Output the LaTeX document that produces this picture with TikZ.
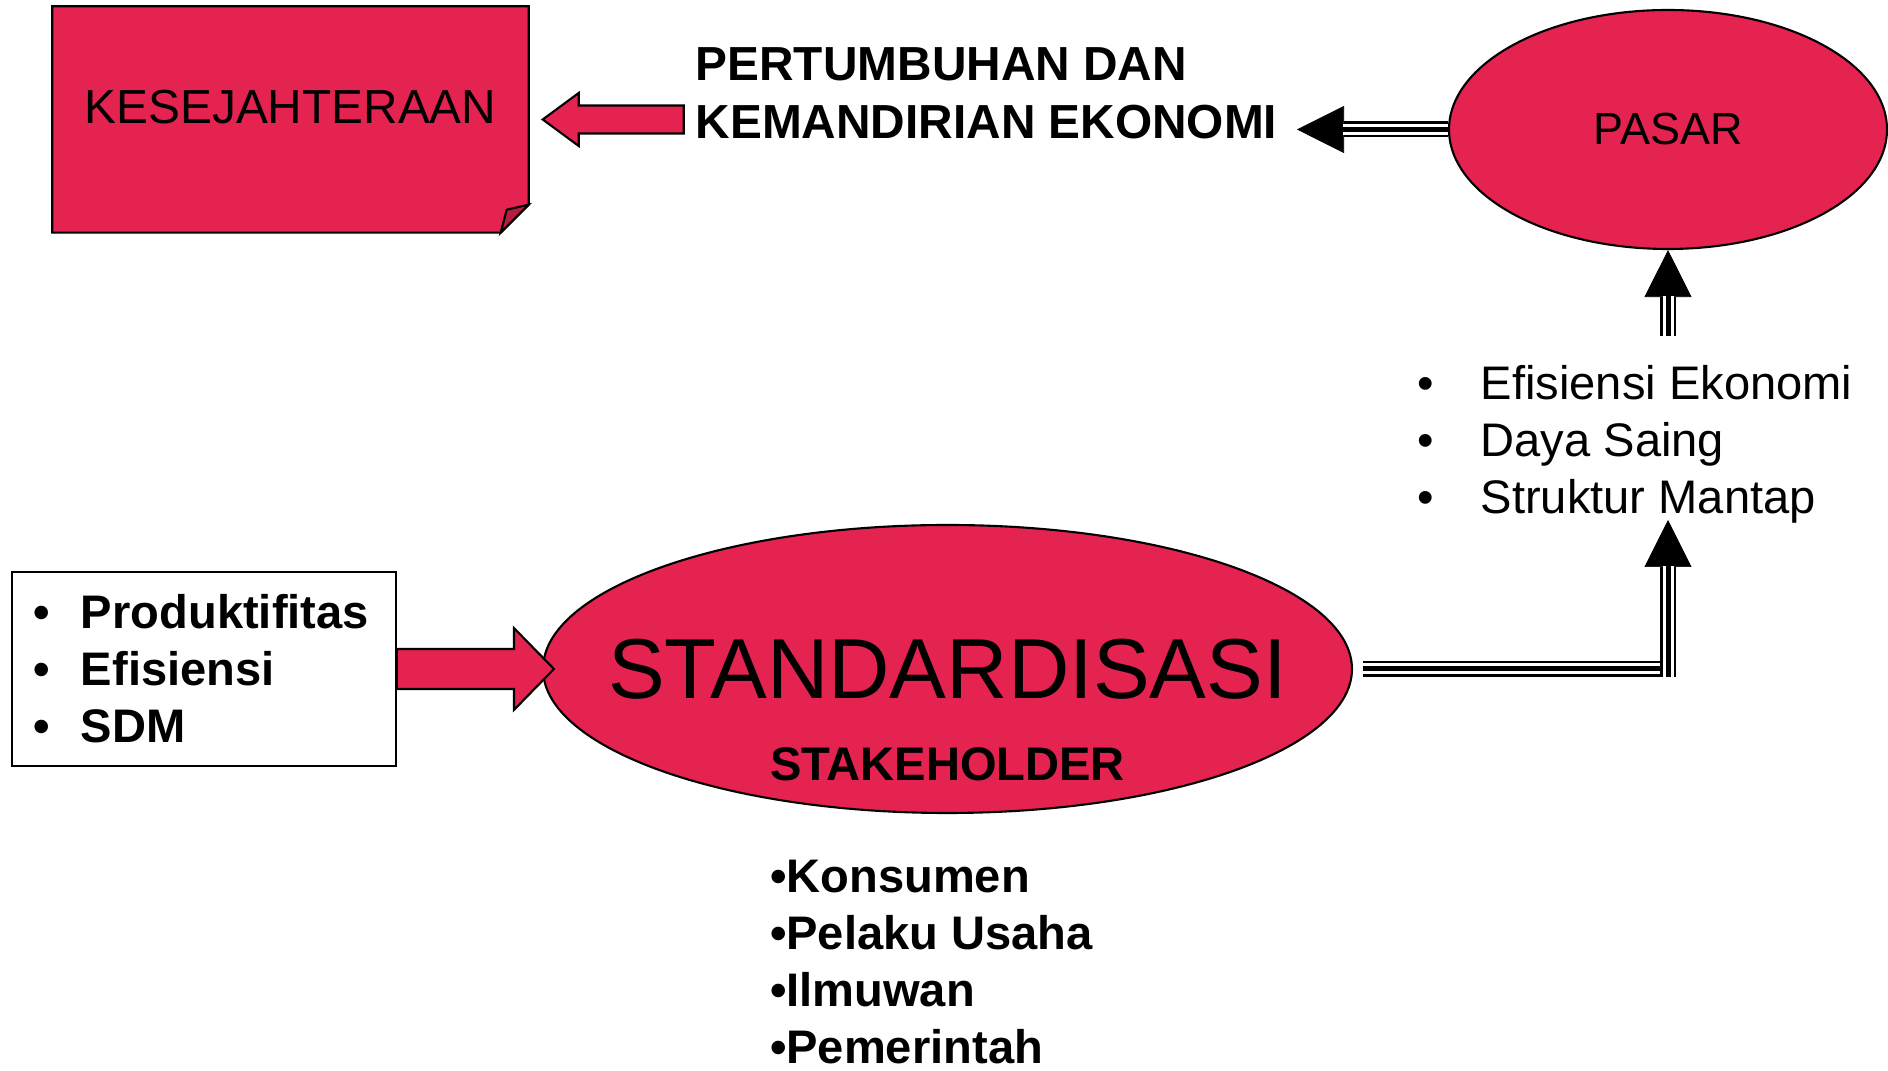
\documentclass[tikz,border=0pt]{standalone}
\usepackage{fontspec}
\setmainfont{Liberation Sans}
\usetikzlibrary{shapes.geometric,positioning,arrows.meta,calc}

\definecolor{pasred}{HTML}{E42350}
\definecolor{folded}{HTML}{B51C40}

\tikzset{
  txt/.style={font=\fontsize{13.4}{16.2}\selectfont},
  btxt/.style={font=\bfseries\fontsize{13.4}{16.2}\selectfont},
  blob/.style={ellipse, draw, fill=pasred, line width=0.6pt, inner sep=0pt},
  fatarr/.style={draw, fill=pasred, line width=0.6pt, line join=miter},
  triple/.style={line width=1.6mm, -{Triangle[length=4.7mm 0, width=4.7mm 0, line width=0.2pt]},
    postaction={draw=white, line width=1.1mm, -, shorten >=4.6mm},
    postaction={draw=black, line width=0.5mm, -, shorten >=4.6mm}},
  triplen/.style={line width=1.6mm,
    postaction={draw=white, line width=1.1mm},
    postaction={draw=black, line width=0.5mm}}
}

\newcommand\bul[1]{\makebox[#1][l]{•}}
% block arrow: tail, tip, shaft half, head half, head length
\newcommand\fatarrow[5]{%
  \coordinate (fbase) at ($(#2)!#5!(#1)$);
  \draw[fatarr] ($(#1)!#3!90:(#2)$) -- ($(fbase)!#3!-90:(#1)$) -- ($(fbase)!#4!-90:(#1)$)
    -- (#2) -- ($(fbase)!#4!90:(#1)$) -- ($(fbase)!#3!90:(#1)$) -- ($(#1)!#3!-90:(#2)$) -- cycle;}

\begin{document}
\begin{tikzpicture}[x=0.1mm, y=-0.1mm]
\useasboundingbox (0,0) rectangle (1888,1071);

% welfare sheet with folded corner
\node[minimum width=47.5mm, minimum height=22.5mm, inner sep=0] (kes) at (290.5,119.5) {};
\draw[fill=pasred, line width=0.6pt] (kes.north west) -- (kes.north east) -- ($(kes.south east)+(0,-28)$)
  -- ($(kes.south east)+(-28,0)$) -- (kes.south west) -- cycle;
\draw[fill=folded, line width=0.6pt] ($(kes.south east)+(0,-28)$) -- ($(kes.south east)+(-22,-23)$)
  -- ($(kes.south east)+(-28,0)$) -- cycle;
\node[font=\fontsize{13.6}{16}\selectfont] (kestxt) at ($(kes)+(0,-12.5)$) {KESEJAHTERAAN};

\node[anchor=west, align=left, inner sep=0, font=\bfseries\fontsize{13.6}{16.5}\selectfont] (grow) at (695,93)
  {PERTUMBUHAN DAN\\KEMANDIRIAN EKONOMI};

\node[blob, minimum width=43.8mm, minimum height=23.9mm, font=\fontsize{12.8}{15}\selectfont] (pasar) at (1668,129.5) {PASAR};

\node[anchor=north west, align=left, inner sep=0, txt] (gain) at (1417,365)
  {\bul{6.3mm}Efisiensi Ekonomi\\ \bul{6.3mm}Daya Saing\\ \bul{6.3mm}Struktur Mantap};

\node[blob, minimum width=80.9mm, minimum height=28.8mm] (std) at (947.5,669) {};
\node[font=\fontsize{24.2}{29}\selectfont] (stdtxt) at (std.center) {STANDARDISASI};
\node[below=7.8mm of std.center, inner sep=0, btxt] (stake) {STAKEHOLDER};
\node[below=7.8mm of stake.south west, anchor=north west, align=left, inner sep=0, btxt] (who)
  {•Konsumen\\•Pelaku Usaha\\•Ilmuwan\\•Pemerintah};

\node[draw, fill=white, line width=0.5pt, minimum width=38.4mm, minimum height=19.4mm, text width=34.2mm,
  inner xsep=2.1mm, align=left, btxt] (lst) at (204,669)
  {\bul{4.8mm}Produktifitas\\ \bul{4.8mm}Efisiensi\\ \bul{4.8mm}SDM};

% block arrows
\coordinate (ktail) at ($(kes.east)+(155,0)$);
\coordinate (ktip) at ($(kes.east)+(14,0)$);
\fatarrow{ktail}{ktip}{1.4mm}{2.65mm}{3.6mm}
\coordinate (stip) at ($(std.west)+(12,0)$);
\fatarrow{lst.east}{stip}{2mm}{4.1mm}{4mm}

% triple line connectors
\coordinate (gtip) at (1297,129.5);
\draw[triple] (pasar.west) -- (gtip);
\coordinate (utail) at (1668,336);
\draw[triple] (utail) -- (pasar.south);
\coordinate (cnr) at (1668,669);
\coordinate (btip) at (1668,520);
\draw[triplen] ($(std.east)+(10,0)$) -- ($(cnr)+(8,0)$);
\draw[triple] ($(cnr)+(0,8)$) -- (btip);
\end{tikzpicture}
\end{document}
